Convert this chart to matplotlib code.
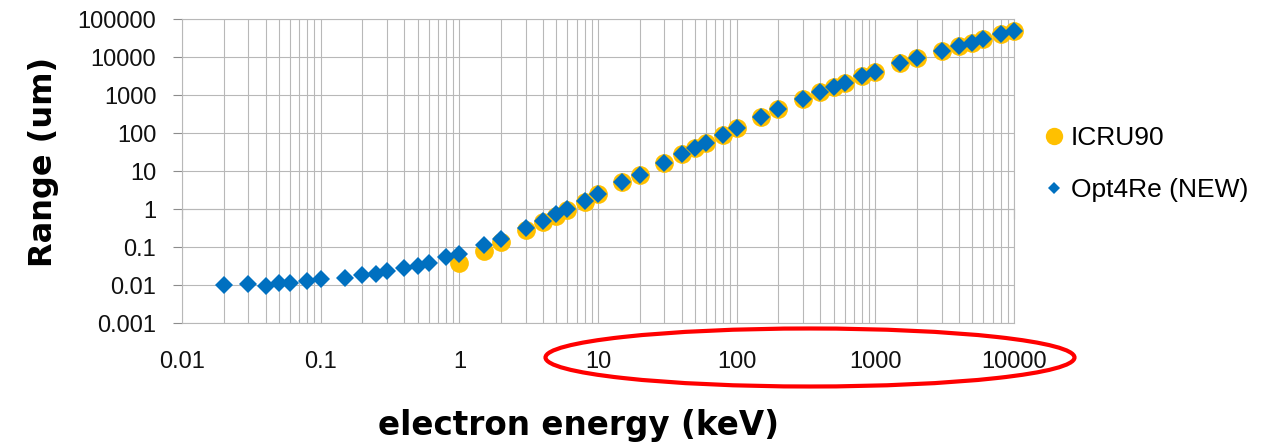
import matplotlib
matplotlib.use("Agg")
import matplotlib.pyplot as plt
from matplotlib.lines import Line2D
from matplotlib.patches import Ellipse
from matplotlib.ticker import LogLocator, NullFormatter, FixedLocator, FixedFormatter

# electron energy (keV) and CSDA range (um)
energia_opt = [0.02, 0.03, 0.04, 0.05, 0.06, 0.08, 0.1, 0.15, 0.2, 0.25, 0.3,
               0.4, 0.5, 0.6, 0.8, 1, 1.5, 2, 3, 4, 5, 6, 8, 10, 15, 20, 30,
               40, 50, 60, 80, 100, 150, 200, 300, 400, 500, 600, 800, 1000,
               1500, 2000, 3000, 4000, 5000, 6000, 8000, 10000]
alcance_opt = [0.0102, 0.0108, 0.0098, 0.0117, 0.0117, 0.013, 0.0144, 0.0159,
               0.0183, 0.0199, 0.0234, 0.0286, 0.033, 0.039, 0.0546, 0.0668,
               0.115, 0.169, 0.33, 0.49, 0.76, 1.0, 1.62, 2.5, 5.1, 8.0, 16.9,
               28.6, 42, 54.6, 90, 141, 275, 428, 785, 1200, 1690, 2150, 3230,
               4200, 6950, 9420, 14700, 20300, 24300, 30400, 40300, 50300]

energia_icru = [1, 1.5, 2, 3, 4, 5, 6, 8, 10, 15, 20, 30, 40, 50, 60, 80, 100,
                150, 200, 300, 400, 500, 600, 800, 1000, 1500, 2000, 3000,
                4000, 5000, 6000, 8000, 10000]
alcance_icru = [0.038, 0.082, 0.14, 0.29, 0.45, 0.66, 0.98, 1.6, 2.5, 5.1,
                8.0, 16.9, 28.6, 42, 54.6, 90, 141, 275, 428, 785, 1200, 1690,
                2150, 3230, 4200, 6950, 9420, 14700, 20300, 24300, 30400,
                40300, 50300]

rotulos_x = ["0.01", "0.1", "1", "10", "100", "1000", "10000"]
rotulos_y = ["0.001", "0.01", "0.1", "1", "10", "100", "1000", "10000", "100000"]

laranja = "#FFC000"
azul = "#0070C0"
cinza = "#b8b8b8"

fig = plt.figure(figsize=(12.8, 4.47), dpi=100)
ax = fig.add_axes([0.1422, 0.2767, 0.6500, 0.6801])

ax.plot(energia_icru, alcance_icru, "o", color=laranja, markersize=13.5,
        markeredgewidth=0, zorder=3, clip_on=False)
ax.plot(energia_opt, alcance_opt, "D", color=azul, markersize=8.7,
        markeredgewidth=0, zorder=4, clip_on=False)

ax.set_xscale("log")
ax.set_yscale("log")
ax.set_xlim(0.01, 10000)
ax.set_ylim(0.001, 100000)

valores_x = [float(s) for s in rotulos_x]
valores_y = [float(s) for s in rotulos_y]
ax.xaxis.set_major_locator(FixedLocator(valores_x))
ax.xaxis.set_major_formatter(FixedFormatter(rotulos_x))
ax.xaxis.set_minor_locator(LogLocator(base=10, subs=range(2, 10), numticks=20))
ax.xaxis.set_minor_formatter(NullFormatter())
ax.yaxis.set_major_locator(FixedLocator(valores_y))
ax.yaxis.set_major_formatter(FixedFormatter(rotulos_y))
ax.yaxis.set_minor_locator(FixedLocator([]))

ax.grid(True, which="major", color=cinza, linewidth=0.8)
ax.grid(True, which="minor", axis="x", color=cinza, linewidth=0.8)
ax.set_axisbelow(True)
for lado in ax.spines.values():
    lado.set_color(cinza)
    lado.set_linewidth(0.8)

fonte_ticks = {"family": "Liberation Sans", "size": 17}
ax.tick_params(axis="x", which="both", length=0, pad=20)
ax.tick_params(axis="y", which="major", length=6.5, width=0.8, color="#8c8c8c",
               pad=12)
for t in ax.get_xticklabels() + ax.get_yticklabels():
    t.set_fontfamily(fonte_ticks["family"])
    t.set_fontsize(fonte_ticks["size"])
    t.set_color("#111111")

# eixo x cruza em y = 1: marcas curtas ali
eixo_cruz = ax.secondary_xaxis(3 / 8)
eixo_cruz.set_xticks(valores_x)
eixo_cruz.set_xticklabels([])
eixo_cruz.xaxis.set_minor_locator(FixedLocator([]))
eixo_cruz.tick_params(axis="x", direction="out", length=7, width=0.8,
                      color="#8c8c8c", labelbottom=False, labeltop=False,
                      bottom=True, top=False)
eixo_cruz.spines["bottom"].set_color(cinza)
eixo_cruz.spines["bottom"].set_linewidth(0.8)

ax.set_xlabel("electron energy (keV)", fontsize=23.5, fontweight="bold",
              family="DejaVu Sans")
ax.xaxis.label.set_va("center")
ax.xaxis.set_label_coords(0.476, -0.335)
ax.set_ylabel("Range (um)", fontsize=23, fontweight="bold",
              family="DejaVu Sans")
ax.yaxis.label.set_va("center")
ax.yaxis.set_label_coords(-0.167, 0.531)

marcadores = [
    Line2D([], [], linestyle="none", marker="o", color=laranja,
           markersize=12.5, markeredgewidth=0),
    Line2D([], [], linestyle="none", marker="D", color=azul,
           markersize=6.2, markeredgewidth=0),
]
fig.legend(marcadores, ["ICRU90", "Opt4Re (NEW)"], loc="center left",
           bbox_to_anchor=(1046 / 1280, 1 - 164 / 447),
           bbox_transform=fig.transFigure, frameon=False, borderpad=0,
           borderaxespad=0, handlelength=0.6, handletextpad=0.35,
           labelspacing=1.05, prop={"family": "Liberation Sans", "size": 19})

# destaque em volta dos rótulos 10 a 10000
elipse = Ellipse((810 / 1280, 1 - 357.5 / 447), 529 / 1280, 58 / 447,
                 transform=fig.transFigure, fill=False, edgecolor="#ff0000",
                 linewidth=3)
fig.patches.append(elipse)

fig.savefig("out.png", dpi=100)
